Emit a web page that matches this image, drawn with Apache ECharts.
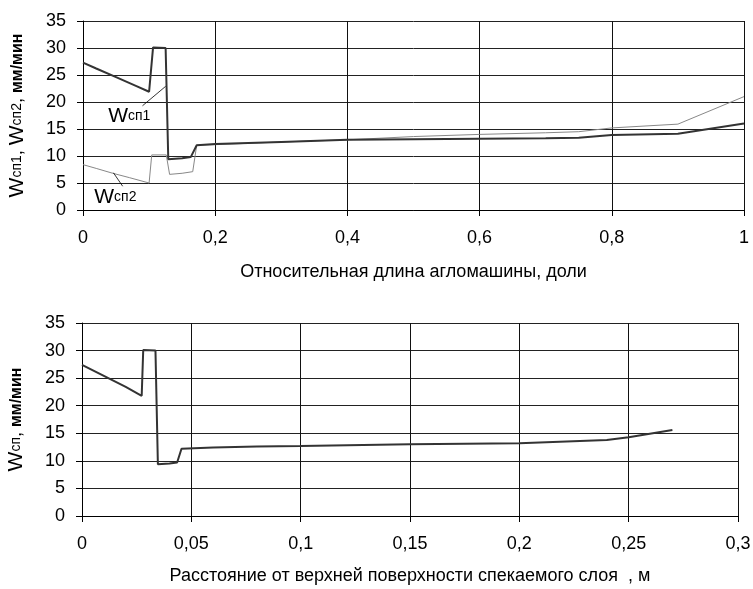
<!DOCTYPE html>
<html>
<head>
<meta charset="utf-8">
<script src="https://cdn.jsdelivr.net/npm/echarts@6/dist/echarts.min.js"></script>
<style>
  html, body { margin: 0; padding: 0; background: #fff; }
  #chart { width: 753px; height: 589px; }
</style>
</head>
<body>
<div id="chart"></div>
<script>
// верхний график: Wсп1 и Wсп2 по относительной длине агломашины
var topX1 = [0, 0.02, 0.05, 0.08, 0.1, 0.102, 0.106, 0.125, 0.129, 0.15, 0.163, 0.172, 0.2, 0.3, 0.4, 0.5, 0.6, 0.7, 0.75, 0.8, 0.9, 1.0];
var topY1 = [27.3, 26.2, 24.6, 23.0, 21.9, 21.9, 30.1, 30.0, 9.4, 9.6, 9.8, 12.0, 12.2, 12.6, 13.0, 13.1, 13.2, 13.3, 13.4, 13.9, 14.1, 16.0];
var topX2 = [0, 0.02, 0.045, 0.07, 0.1, 0.104, 0.126, 0.131, 0.15, 0.166, 0.172, 0.2, 0.3, 0.4, 0.5, 0.6, 0.7, 0.75, 0.8, 0.9, 1.0];
var topY2 = [8.4, 7.7, 6.8, 6.0, 5.0, 10.2, 10.2, 6.6, 6.8, 7.1, 12.0, 12.1, 12.6, 13.0, 13.6, 14.0, 14.3, 14.5, 15.2, 15.9, 21.0];

// нижний график: Wсп по расстоянию от поверхности слоя
var botX = [0, 0.01, 0.02, 0.0273, 0.028, 0.0336, 0.0347, 0.04, 0.0435, 0.0455, 0.06, 0.08, 0.1, 0.15, 0.2, 0.24, 0.25, 0.27];
var botY = [27.4, 25.4, 23.4, 21.8, 30.1, 30.0, 9.4, 9.5, 9.7, 12.2, 12.4, 12.6, 12.7, 13.0, 13.2, 13.8, 14.3, 15.6];

var yTicks = [0, 5, 10, 15, 20, 25, 30, 35];

function pairs(xs, ys){
    return xs.map(function(x, i){ return [x, ys[i]]; });
}
function comma(v){
    return String(+v.toFixed(2)).replace('.', ',');
}

var font = "'Liberation Sans', Arial, sans-serif";
var rich = {
    w: { fontSize: 21, fontFamily: font, color: '#000' },
    s: { fontSize: 14, fontFamily: font, color: '#000' },
    b: { fontSize: 18, fontFamily: font, color: '#000' },
    m: { fontSize: 16, fontFamily: font, color: '#000', fontWeight: 'bold' }
};

function xAxis(idx, max, step, name, gap){
    return {
        type: 'value', gridIndex: idx, min: 0, max: max, interval: step,
        name: name, nameLocation: 'middle', nameGap: gap,
        nameTextStyle: { fontFamily: font, fontSize: 18, color: '#000' },
        axisLine: { onZero: false, lineStyle: { color: '#000', width: 1 } },
        axisTick: { show: true, length: 6, lineStyle: { color: '#000' } },
        axisLabel: { margin: 19, fontFamily: font, fontSize: 18, color: '#000', formatter: comma },
        splitLine: { show: true, lineStyle: { color: '#111', width: 1 } }
    };
}
function yAxis(idx, name){
    return {
        type: 'value', gridIndex: idx, min: 0, max: 35, interval: 5,
        name: name, nameLocation: 'middle', nameGap: 55,
        nameTextStyle: { rich: rich },
        axisLine: { show: true, lineStyle: { color: '#000', width: 1 } },
        axisTick: { show: true, length: 6, lineStyle: { color: '#000' } },
        axisLabel: { margin: 17, fontFamily: font, fontSize: 18, color: '#000',
            formatter: function(v){ return yTicks.indexOf(v) >= 0 ? String(v) : ''; } },
        splitLine: { show: true, lineStyle: { color: '#222', width: 1 } }
    };
}

var myChart = echarts.init(document.getElementById('chart'));

var option = {
    animation: false,
    backgroundColor: '#fff',
    grid: [
        { left: 83, right: 9, top: 21, bottom: 379, outerBoundsMode: 'none' },
        { left: 82, right: 15, top: 323, bottom: 73, outerBoundsMode: 'none' }
    ],
    xAxis: [
        xAxis(0, 1, 0.2, 'Относительная длина агломашины, доли', 53),
        xAxis(1, 0.3, 0.05, 'Расстояние от верхней поверхности спекаемого слоя  , м', 51)
    ],
    yAxis: [
        yAxis(0, '{w|W}{s|сп1}{b|, }{w|W}{s|сп2}{b|, }{m|мм/мин}'),
        yAxis(1, '{w|W}{s|сп}{b|, }{m|мм/мин}')
    ],
    series: [
        {
            name: 'Wсп2', type: 'line', xAxisIndex: 0, yAxisIndex: 0,
            data: pairs(topX2, topY2), showSymbol: false,
            lineStyle: { color: '#888', width: 1 },
            markPoint: {
                symbol: 'circle', symbolSize: 1, itemStyle: { color: 'rgba(0,0,0,0)' },
                label: { show: true, position: 'inside', rich: rich, formatter: '{w|W}{s|сп2}' },
                data: [{ coord: [0.049, 2.4] }]
            },
            markLine: {
                silent: true, symbol: ['none', 'none'], label: { show: false },
                lineStyle: { color: '#000', width: 0.8, type: 'solid' },
                data: [[{ coord: [0.046, 6.9] }, { coord: [0.06, 4.4] }]]
            }
        },
        {
            name: 'Wсп1', type: 'line', xAxisIndex: 0, yAxisIndex: 0,
            data: pairs(topX1, topY1), showSymbol: false,
            lineStyle: { color: '#333', width: 2 },
            markPoint: {
                symbol: 'circle', symbolSize: 1, itemStyle: { color: 'rgba(0,0,0,0)' },
                label: { show: true, position: 'inside', rich: rich, formatter: '{w|W}{s|сп1}' },
                data: [{ coord: [0.07, 17.3] }]
            },
            markLine: {
                silent: true, symbol: ['none', 'none'], label: { show: false },
                lineStyle: { color: '#000', width: 0.8, type: 'solid' },
                data: [[{ coord: [0.09, 19.3] }, { coord: [0.125, 22.9] }]]
            }
        },
        {
            name: 'Wсп', type: 'line', xAxisIndex: 1, yAxisIndex: 1,
            data: pairs(botX, botY), showSymbol: false,
            lineStyle: { color: '#333', width: 2 }
        }
    ]
};

myChart.setOption(option);
</script>
</body>
</html>
